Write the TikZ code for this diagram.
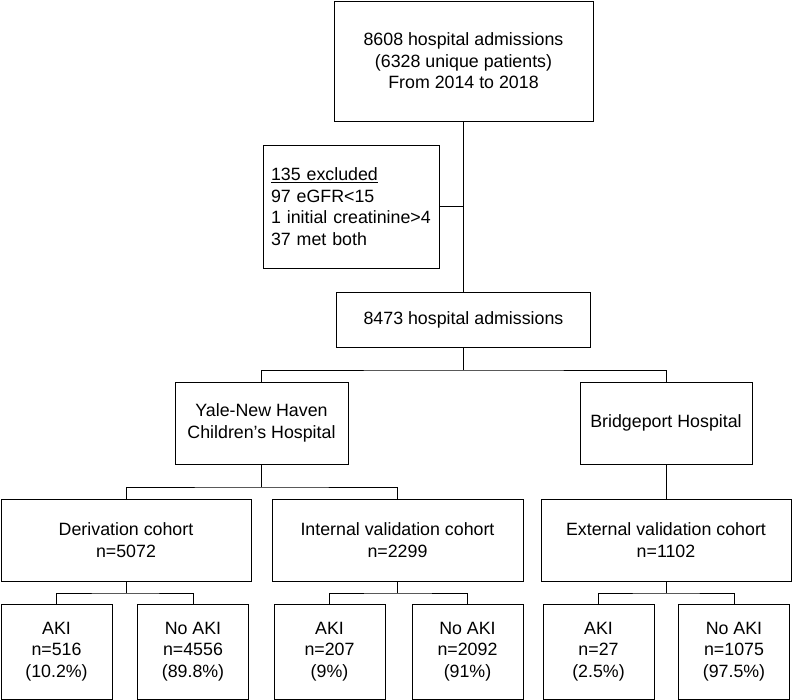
\documentclass[tikz,border=0pt]{standalone}
\usepackage{fontspec}
\setmainfont{Liberation Sans}
\begin{document}
\begin{tikzpicture}
[x=1pt,y=-1pt,line width=0.9pt,
box/.style={draw,align=center,inner sep=0pt,minimum height=82pt,font=\fontsize{17.8}{21.6}\selectfont},
small/.style={box,minimum width=111pt,minimum height=95pt}]
\useasboundingbox (0,0) rectangle (792,700);
\node (top) at (463.5,61) [box,minimum width=259pt,minimum height=120pt] {8608 hospital admissions\\(6328 unique patients)\\From 2014 to 2018};
\node (excl) at (351,206.5) [box,minimum width=176pt,minimum height=123pt,text width=160pt,align=left,inner xsep=8pt] {\underline{135 excluded}\\97 eGFR<15\\1 initial creatinine>4\\37 met both};
\node (adm) at (463.5,319.5) [box,minimum width=254pt,minimum height=55pt] {8473 hospital admissions};
\node (yale) at (261.5,423) [box,minimum width=173pt] {Yale-New Haven\\Children’s Hospital};
\node (bport) at (666,423) [box,minimum width=172pt] {Bridgeport Hospital};
\node (der) at (126,540) [box,minimum width=250pt] {Derivation cohort\\n=5072};
\node (int) at (397.5,540) [box,minimum width=251pt] {Internal validation cohort\\n=2299};
\node (ext) at (666,540) [box,minimum width=250pt] {External validation cohort\\n=1102};
\node (a1) at (56.5,651.5) [small] {AKI\\n=516\\(10.2\%)};
\node (n1) at (193,651.5) [small] {No AKI\\n=4556\\(89.8\%)};
\node (a2) at (329.5,651.5) [small] {AKI\\n=207\\(9\%)};
\node (n2) at (467.5,651.5) [small] {No AKI\\n=2092\\(91\%)};
\node (a3) at (598.5,651.5) [small] {AKI\\n=27\\(2.5\%)};
\node (n3) at (734,651.5) [small] {No AKI\\n=1075\\(97.5\%)};
% branch points
\coordinate (s0) at (463.5,370);
\coordinate (s1) at (261.5,487);
\coordinate (s2) at (126,593);
\coordinate (s3) at (397.5,593);
\coordinate (s4) at (666,593);
\draw (top) -- (adm);
\draw (excl.east) -- (excl.east -| top.south);
\draw (adm) -- (s0);
\draw (yale.north) |- (s0) -| (bport.north);
\draw (bport) -- (ext);
\draw (yale) -- (s1);
\draw (der.north) |- (s1) -| (int.north);
\draw (der) -- (s2);
\draw (int) -- (s3);
\draw (ext) -- (s4);
\draw (a1.north) |- (s2) -| (n1.north);
\draw (a2.north) |- (s3) -| (n2.north);
\draw (a3.north) |- (s4) -| (n3.north);
\end{tikzpicture}
\end{document}
